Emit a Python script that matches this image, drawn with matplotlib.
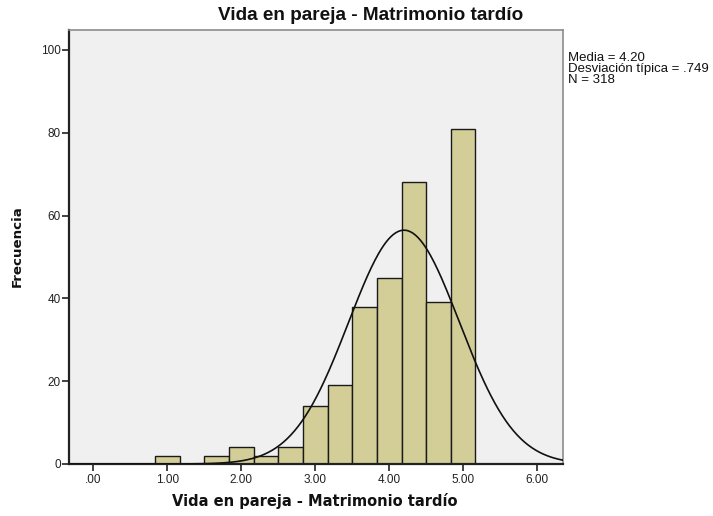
import numpy as np
import matplotlib
matplotlib.use("Agg")
import matplotlib.pyplot as plt

plt.rcParams['font.family'] = ['Liberation Sans', 'DejaVu Sans']

# Histogram bins (width 1/3) and counts
bin_left = [0.8333, 1.1667, 1.5, 1.8333, 2.1667, 2.5, 2.8333, 3.1667,
            3.5, 3.8333, 4.1667, 4.5, 4.8333]
counts = [2, 0, 2, 4, 2, 4, 14, 19, 38, 45, 68, 39, 81]
bin_width = 1 / 3

media = 4.20
desv = 0.749
n = 318

xticks = [0, 1, 2, 3, 4, 5, 6]
xtick_labels = [".00", "1.00", "2.00", "3.00", "4.00", "5.00", "6.00"]
yticks = [0, 20, 40, 60, 80, 100]
titulo = "Vida en pareja - Matrimonio tardío"

fig = plt.figure(figsize=(7.13, 5.16), dpi=100)
ax = fig.add_axes([69 / 713, 1 - 464 / 516, (563 - 69) / 713, (464 - 30) / 516])
ax.set_facecolor("#F0F0F0")

ax.bar(bin_left, counts, width=bin_width, align="edge", color="#D3CE97",
       edgecolor="#1a1a1a", linewidth=1.0, zorder=2)

# Normal curve from mean / sd
xs = np.linspace(-0.33, 6.35, 400)
ys = n * bin_width / (desv * np.sqrt(2 * np.pi)) * np.exp(-0.5 * ((xs - media) / desv) ** 2)
ax.plot(xs, ys, color="#111111", linewidth=1.2, zorder=3)

ax.set_xlim(-0.33, 6.35)
ax.set_ylim(0, 104.8)
ax.set_xticks(xticks)
ax.set_xticklabels(xtick_labels)
ax.set_yticks(yticks)
ax.tick_params(axis="both", direction="out", length=5, width=1.2, labelsize=8.5,
               color="#222222", labelcolor="#222222")
ax.tick_params(axis="y", pad=1)
ax.tick_params(axis="x", pad=2)

for side in ["top", "right"]:
    ax.spines[side].set_color("#8c8c8c")
    ax.spines[side].set_linewidth(1.2)
for side in ["left", "bottom"]:
    ax.spines[side].set_color("#222222")
    ax.spines[side].set_linewidth(1.6)

t_title = fig.text(371 / 713, 1 - 15 / 516, titulo, fontsize=12,
                   fontweight="bold", ha="center", va="center", color="#111111")
t_xlab = fig.text(315 / 713, 1 - 501 / 516, titulo, fontsize=10, family="DejaVu Sans",
                  fontweight="bold", ha="center", va="center", color="#111111")
t_ylab = fig.text(17 / 713, 1 - 246 / 516, "Frecuencia", fontsize=10, family="DejaVu Sans",
                  fontweight="bold", ha="center", va="center", rotation=90, color="#111111")
t_stats = fig.text(568 / 713, 1 - 52 / 516,
                   "Media = %.2f\nDesviación típica = .%d\nN = %d" % (media, round(desv * 1000), n),
                   fontsize=8, va="top", ha="left", linespacing=0.9, color="#111111")

# size the texts to the widths measured on the reference
fig.canvas.draw()
r = fig.canvas.get_renderer()
for t, target, use_h in [(t_title, 306, False), (t_xlab, 284, False),
                         (t_ylab, 82, True), (t_stats, 142, False)]:
    bb = t.get_window_extent(r)
    size = bb.height if use_h else bb.width
    t.set_fontsize(t.get_fontsize() * target / size)

fig.savefig("out.png", dpi=100)
